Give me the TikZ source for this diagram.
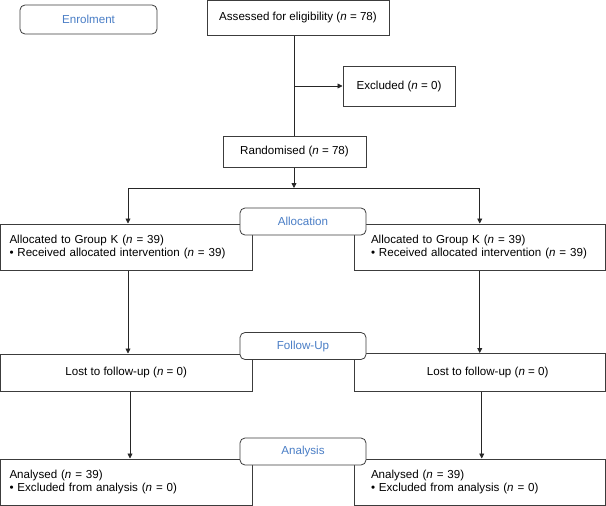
\documentclass[tikz,border=0pt]{standalone}
\usepackage{fontspec}
\setmainfont{Liberation Sans}
\usetikzlibrary{arrows.meta}
\definecolor{boxline}{HTML}{3C3C3C}
\definecolor{stageblue}{HTML}{4A7EC6}
\begin{document}
\begin{tikzpicture}[x=1pt,y=-1pt,
  font=\fontsize{11.6}{13.5}\selectfont,
  box/.style={draw=boxline,line width=1pt,fill=white,inner sep=0pt},
  leftbox/.style={box,minimum width=251.5pt,minimum height=46pt,text width=233.5pt,align=left},
  rightbox/.style={box,minimum width=251.5pt,minimum height=46pt,text width=217.5pt,align=left},
  stage/.style={draw=boxline,line width=0.8pt,fill=white,rounded corners=5pt,inner sep=0pt,text=stageblue,minimum width=126pt,minimum height=27pt},
  conn/.style={draw=black!85,line width=0.8pt},
  arr/.style={conn,-{Triangle[width=5pt,length=5pt]}}]
\useasboundingbox (0,0) rectangle (606,506);
\fill[white] (0,0) rectangle (606,506);

\node[stage,minimum width=137pt,minimum height=29pt] (enrol) at (88.5,19.5) {Enrolment};
\node[box,minimum width=182pt,minimum height=34.5pt] (assess) at (298,17.75) {Assessed for eligibility (\textit{n} = 78)};
\node[box,minimum width=112pt,minimum height=40pt] (excl) at (399,86) {Excluded (\textit{n} = 0)};
\node[box,minimum width=143pt,minimum height=31pt] (rand) at (294.5,151.5) {Randomised (\textit{n} = 78)};

\coordinate (b1) at (294,86);
\coordinate (split) at (294,188);

\node[leftbox] (al1) at (126.25,247)
  {Allocated to Group K (\textit{n} = 39)\\\textbullet{} Received allocated intervention (\textit{n} = 39)};
\node[rightbox] (al2) at (479.75,247)
  {Allocated to Group K (\textit{n} = 39)\\\textbullet{} Received allocated intervention (\textit{n} = 39)};
\node[stage] (alloc) at (303,221.5) {Allocation};

\node[box,minimum width=251.5pt,minimum height=37pt] (fu1) at (126.25,372.5) {Lost to follow-up (\textit{n} = 0)};
\node[box,minimum width=251.5pt,minimum height=38pt] (fu2) at (479.75,372.5) {\hspace*{16pt}Lost to follow-up (\textit{n} = 0)};
\node[stage] (follow) at (303,346) {Follow-Up};

\node[leftbox] (an1) at (126.25,482)
  {Analysed (\textit{n} = 39)\\\textbullet{} Excluded from analysis (\textit{n} = 0)};
\node[rightbox] (an2) at (479.75,482)
  {Analysed (\textit{n} = 39)\\\textbullet{} Excluded from analysis (\textit{n} = 0)};
\node[stage] (analysis) at (303,451.5) {Analysis};

\draw[conn] (assess.south -| b1) -- (rand.north -| b1);
\draw[arr] (b1) -- (excl.west);
\draw[arr] (rand.south -| split) -- (split);
\draw[arr] (split) -| ([xshift=1.75pt]al1.north);
\draw[arr] (split) -| (al2.north);
\draw[arr] ([xshift=1.75pt]al1.south) -- ([xshift=1.75pt]fu1.north);
\draw[arr] (al2.south) -- (fu2.north);
\draw[arr] ([xshift=3.75pt]fu1.south) -- ([xshift=3.75pt]an1.north);
\draw[arr] ([xshift=2pt]fu2.south) -- ([xshift=2pt]an2.north);
\end{tikzpicture}
\end{document}
